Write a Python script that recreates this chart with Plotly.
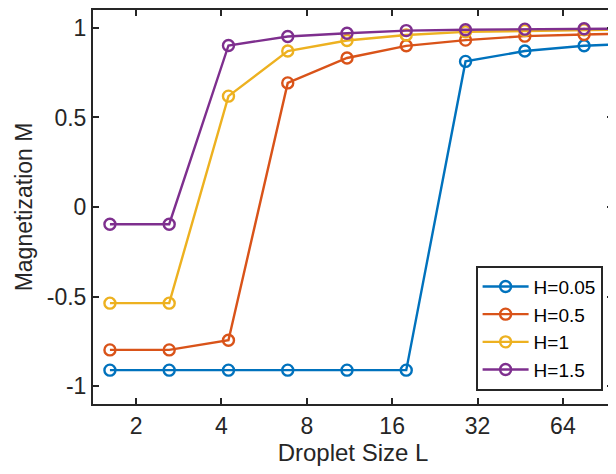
import plotly.graph_objects as go

L = [1.618, 2.618, 4.236, 6.854, 11.09, 17.94, 29.03, 46.98, 76.01, 122.99]

M_h005 = [-0.911, -0.911, -0.911, -0.911, -0.911, -0.911, 0.813, 0.871, 0.900, 0.915]
M_h05 = [-0.798, -0.798, -0.744, 0.693, 0.832, 0.900, 0.932, 0.954, 0.963, 0.970]
M_h1 = [-0.537, -0.537, 0.619, 0.871, 0.930, 0.960, 0.978, 0.985, 0.990, 0.993]
M_h15 = [-0.096, -0.096, 0.902, 0.952, 0.970, 0.985, 0.990, 0.993, 0.995, 0.997]

series_names = ["H=0.05", "H=0.5", "H=1", "H=1.5"]
series_vals = [M_h005, M_h05, M_h1, M_h15]
colors = ["#0072BD", "#D95319", "#EDB120", "#7E2F8E"]

x_tickvals = [2, 4, 8, 16, 32, 64]
x_ticktext = ["2", "4", "8", "16", "32", "64"]
y_tickvals = [-1, -0.5, 0, 0.5, 1]
y_ticktext = ["-1", "-0.5", "0", "0.5", "1"]

FONT = "Liberation Sans, Arial, Helvetica, sans-serif"
DARK = "#262626"
TICK_SIZE = 23

fig = go.Figure()
for name, vals, c in zip(series_names, series_vals, colors):
    fig.add_trace(go.Scatter(
        x=L, y=vals, name=name, mode="lines+markers",
        line=dict(color=c, width=2.4),
        marker=dict(symbol="circle-open", size=11, color=c, line=dict(width=2.4, color=c)),
        cliponaxis=True,
    ))

# page body adds an 8px margin, so the figure is sized to fit the window
fig.update_layout(
    width=608, height=466,
    margin=dict(l=85, r=3, t=2, b=70),
    paper_bgcolor="white", plot_bgcolor="white",
    font=dict(family=FONT, size=TICK_SIZE, color=DARK),
    showlegend=True,
    legend=dict(
        x=0.98, xanchor="right", y=0.034, yanchor="bottom",
        bgcolor="white", bordercolor=DARK, borderwidth=2,
        font=dict(family=FONT, size=19, color="black"),
        tracegroupgap=0, itemwidth=46,
    ),
)
fig.update_xaxes(
    type="log", range=[0.1493, 1.9828],
    tickvals=x_tickvals, ticktext=x_ticktext,
    ticks="inside", ticklen=6, tickwidth=2, tickcolor=DARK,
    tickfont=dict(size=TICK_SIZE),
    showline=True, linecolor=DARK, linewidth=2, mirror="ticks",
    showgrid=False, zeroline=False, automargin=False,
    title=dict(text="Droplet Size L", font=dict(family=FONT, size=24, color=DARK), standoff=4),
)
fig.update_yaxes(
    range=[-1.1, 1.1],
    tickvals=y_tickvals, ticktext=y_ticktext,
    ticks="inside", ticklen=6, tickwidth=2, tickcolor=DARK,
    tickfont=dict(size=TICK_SIZE),
    showline=True, linecolor=DARK, linewidth=2, mirror="ticks",
    showgrid=False, zeroline=False, automargin=False,
    title=dict(text="Magnetization M", font=dict(family=FONT, size=23, color=DARK), standoff=8),
)

fig.write_html("out.html")
